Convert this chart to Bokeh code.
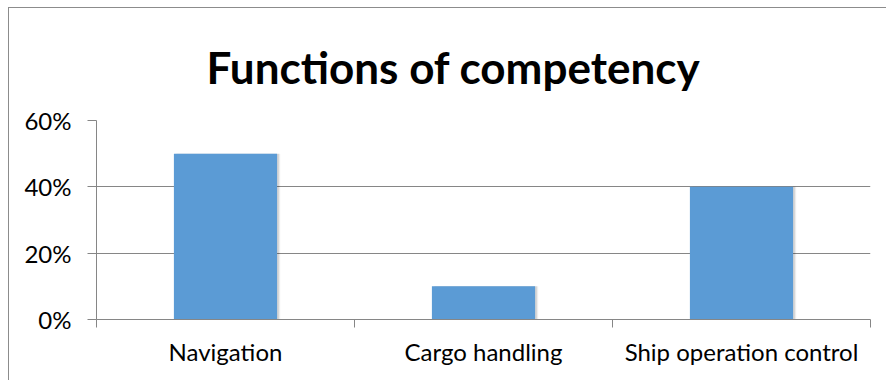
from bokeh.plotting import figure
from bokeh.models import (Range1d, LinearAxis, FixedTicker, ColumnDataSource,
                          NumeralTickFormatter, Title)
from bokeh.transform import dodge
from bokeh.embed import file_html
from bokeh.resources import INLINE

categories = ["Navigation", "Cargo handling", "Ship operation control"]
values = [0.50, 0.10, 0.40]
y_ticks = [0, 0.2, 0.4, 0.6]
title_text = "Functions of competency"

FONT = "Lato"
GRID = "#868686"
BAR = "#5B9BD5"

n = len(categories)
centers = [i + 0.5 for i in range(n)]
src = ColumnDataSource(dict(x=centers, top=values, cat=categories))

p = figure(width=878, height=373, output_backend="svg", toolbar_location=None,
           x_range=Range1d(0, n), y_range=Range1d(0, 0.6),
           x_axis_location=None, y_axis_location=None,
           min_border_left=87, min_border_right=17, min_border_top=112, min_border_bottom=62)
p.margin = (7, 0, 0, 8)
p.styles = {"border-left": "1px solid #8c8c8c", "border-top": "1px solid #8c8c8c",
            "box-sizing": "border-box"}
p.outline_line_color = None
p.background_fill_color = "white"
p.border_fill_color = "white"

# soft shadow behind the bars
for off, a in [(0.012, 0.07), (0.007, 0.10)]:
    p.vbar(x=dodge("x", off), top="top", width=0.4, source=src,
           fill_color="#000000", fill_alpha=a, line_color=None)
p.vbar(x="x", top="top", width=0.4, source=src, fill_color=BAR, line_color=None)

# y axis
yax = LinearAxis(ticker=FixedTicker(ticks=y_ticks), formatter=NumeralTickFormatter(format="0%"))
yax.axis_line_color = GRID
yax.major_tick_line_color = GRID
yax.major_tick_out = 9
yax.major_tick_in = 0
yax.minor_tick_line_color = None
yax.major_label_standoff = 16
yax.major_label_text_font = FONT
yax.major_label_text_font_size = "24px"
yax.major_label_text_color = "#000000"
p.add_layout(yax, "left")

p.ygrid.ticker = FixedTicker(ticks=y_ticks)
p.ygrid.grid_line_color = GRID
p.xgrid.grid_line_color = None

# x axis: tick marks at category boundaries
xtick = LinearAxis(ticker=FixedTicker(ticks=list(range(n + 1))))
xtick.axis_line_color = GRID
xtick.major_tick_line_color = GRID
xtick.major_tick_out = 8
xtick.major_tick_in = 0
xtick.minor_tick_line_color = None
xtick.major_label_text_font_size = "0px"
xtick.major_label_text_alpha = 0
xtick.major_label_standoff = 0
p.add_layout(xtick, "below")

# x axis: category labels at centers
xlab = LinearAxis(ticker=FixedTicker(ticks=centers),
                  major_label_overrides={c: cat for c, cat in zip(centers, categories)})
xlab.axis_line_color = None
xlab.major_tick_line_color = None
xlab.minor_tick_line_color = None
xlab.major_label_standoff = 3
xlab.major_label_text_font = FONT
xlab.major_label_text_font_size = "24px"
xlab.major_label_text_color = "#000000"
p.add_layout(xlab, "below")

title = Title(text=title_text, align="left", offset=110, standoff=56,
              text_font=FONT, text_font_style="bold", text_font_size="44px",
              text_color="#000000")
p.add_layout(title, "above")

open("out.html", "w").write(file_html(p, INLINE))
